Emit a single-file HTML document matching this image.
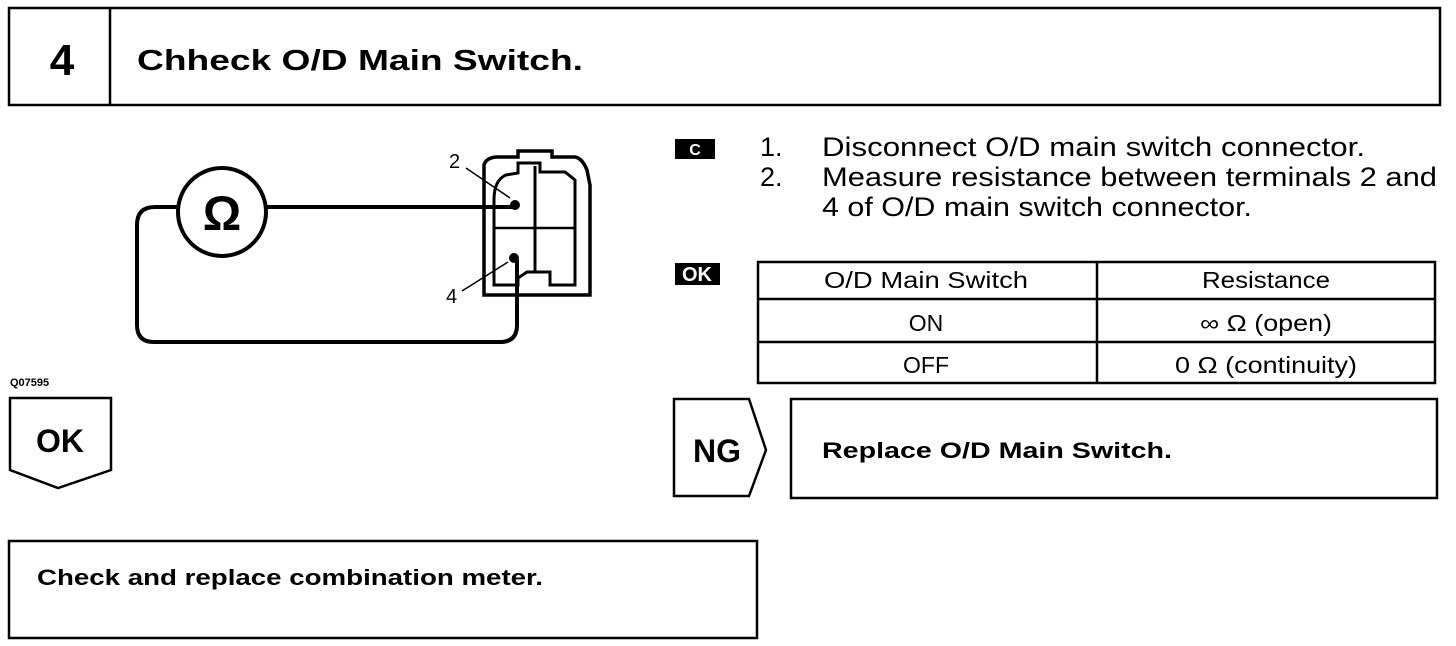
<!DOCTYPE html>
<html><head><meta charset="utf-8"><style>
html,body{margin:0;padding:0;background:#fff;width:1456px;height:646px;overflow:hidden}
svg{display:block}
text{font-family:"Liberation Sans",sans-serif;fill:#000}
.b{font-weight:bold}
</style></head><body>
<svg width="1456" height="646" viewBox="0 0 1456 646" xmlns="http://www.w3.org/2000/svg">
<g fill="none" stroke="#000" stroke-width="2.5">
<rect x="9" y="8" width="1431" height="97"/>
<line x1="110" y1="8" x2="110" y2="105"/>
</g>
<text x="62" y="75" class="b" font-size="44" text-anchor="middle">4</text>
<text x="137" y="70" class="b" font-size="29" textLength="446" lengthAdjust="spacingAndGlyphs">Chheck O/D Main Switch.</text>

<!-- circuit -->
<g fill="none" stroke="#000" stroke-width="4">
<circle cx="222" cy="212" r="44"/>
<path d="M178 207 H155 Q137 207 137 225 V325 Q137 342 154 342 H500 Q517 342 517 325 V260"/>
<line x1="266" y1="207" x2="515" y2="207"/>
<path d="M484 165 Q486 158 496 157 H518 V151 H552 V157 H575 Q582 158 587 170 L590 185 V295 H484 Z" stroke-width="3.5"/>
<path d="M494 200 Q494 180 506 175 L518 173 V163 H540 V172 H565 L575 180 V285 H550 V272 H527 L518 278 V285 H494 Z" stroke-width="3"/>
<line x1="535" y1="166" x2="535" y2="272" stroke-width="3"/>
<line x1="494" y1="228" x2="575" y2="228" stroke-width="2.5"/>
</g>
<circle cx="515" cy="205" r="5"/>
<circle cx="514" cy="258" r="5"/>
<line x1="466" y1="168" x2="510" y2="198" stroke="#000" stroke-width="1.5"/>
<line x1="462" y1="291" x2="508" y2="262" stroke="#000" stroke-width="1.5"/>
<text x="222" y="230" class="b" font-size="48" text-anchor="middle" font-family="DejaVu Sans">Ω</text>
<text x="449" y="168" font-size="20">2</text>
<text x="446" y="303" font-size="20">4</text>
<text x="10" y="386" font-size="11" class="b">Q07595</text>

<!-- right text -->
<rect x="675" y="139" width="40" height="20" fill="#000"/>
<text x="695" y="155" font-size="16" style="fill:#fff" text-anchor="middle" class="b">C</text>
<g font-size="27">
<text x="760" y="156">1.</text>
<text x="822" y="156" textLength="543" lengthAdjust="spacingAndGlyphs">Disconnect O/D main switch connector.</text>
<text x="760" y="186">2.</text>
<text x="822" y="186" textLength="615" lengthAdjust="spacingAndGlyphs">Measure resistance between terminals 2 and</text>
<text x="822" y="216" textLength="430" lengthAdjust="spacingAndGlyphs">4 of O/D main switch connector.</text>
</g>
<rect x="675" y="263" width="45" height="22" fill="#000"/>
<text x="697" y="281" font-size="20" style="fill:#fff" text-anchor="middle" class="b">OK</text>

<g fill="none" stroke="#000" stroke-width="2.5">
<rect x="758" y="262" width="677" height="121"/>
<line x1="1097" y1="262" x2="1097" y2="383"/>
<line x1="758" y1="299" x2="1435" y2="299"/>
<line x1="758" y1="342" x2="1435" y2="342"/>
</g>
<g font-size="23" text-anchor="middle">
<text x="926" y="288" textLength="204" lengthAdjust="spacingAndGlyphs">O/D Main Switch</text>
<text x="1266" y="288" textLength="128" lengthAdjust="spacingAndGlyphs">Resistance</text>
<text x="926" y="331">ON</text>
<text x="1266" y="331" textLength="132" lengthAdjust="spacingAndGlyphs">∞ Ω (open)</text>
<text x="926" y="373">OFF</text>
<text x="1266" y="373" textLength="182" lengthAdjust="spacingAndGlyphs">0 Ω (continuity)</text>
</g>

<!-- NG -->
<g fill="none" stroke="#000" stroke-width="2.5">
<path d="M674 399 H749 L766 450 L749 496 H674 Z"/>
<rect x="791" y="399" width="646" height="99"/>
<path d="M10 398 H111 V470 L58 488 L10 470 Z"/>
<rect x="9" y="541" width="748" height="97"/>
</g>
<text x="717" y="462" class="b" font-size="32" text-anchor="middle">NG</text>
<text x="822" y="458" class="b" font-size="22" textLength="350" lengthAdjust="spacingAndGlyphs">Replace O/D Main Switch.</text>
<text x="60" y="452" class="b" font-size="32" text-anchor="middle">OK</text>
<text x="37" y="585" class="b" font-size="22" textLength="506" lengthAdjust="spacingAndGlyphs">Check and replace combination meter.</text>
</svg>
</body></html>
